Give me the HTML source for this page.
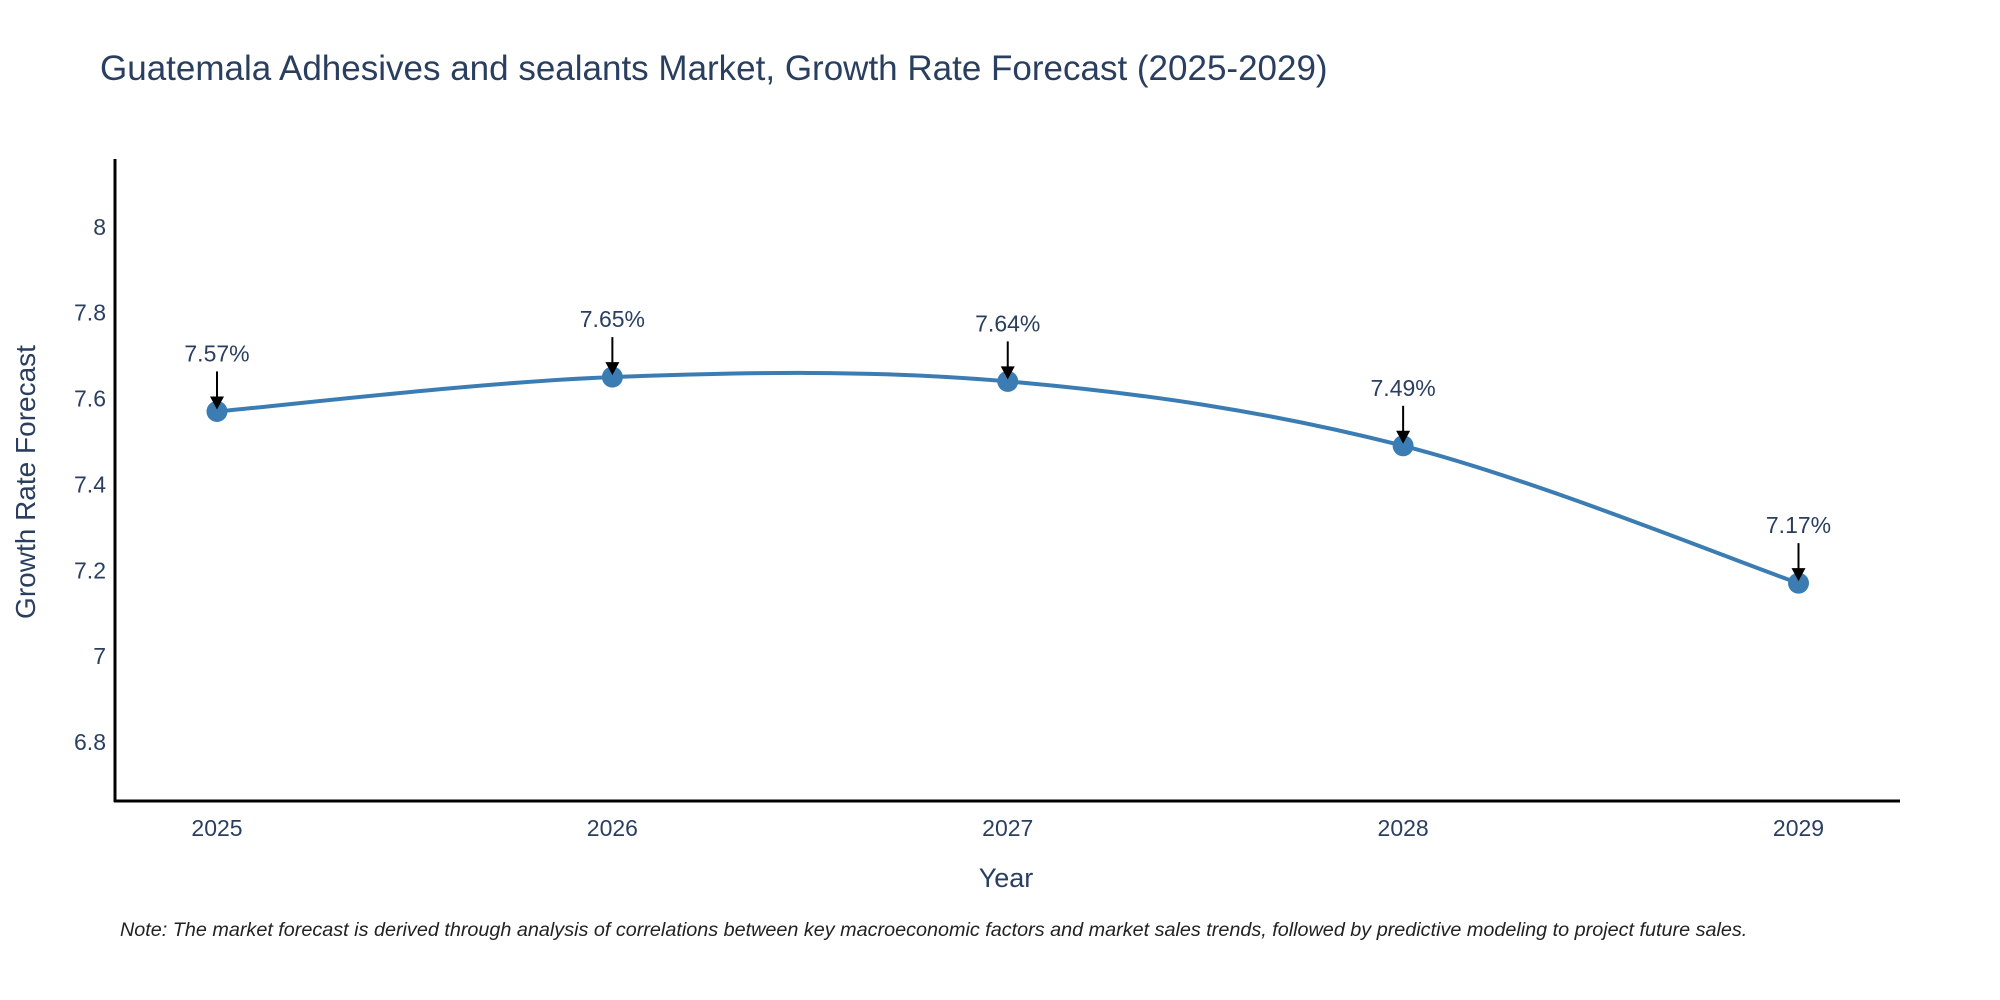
<!DOCTYPE html>
<html><head><meta charset="utf-8"><style>
body{margin:0;background:#fff;}
svg{display:block;font-family:"Liberation Sans",sans-serif;}
</style></head><body>
<svg id="chart" width="2000" height="1000">
<text x="100" y="80" font-size="35" fill="#2a3f5f">Guatemala Adhesives and sealants Market, Growth Rate Forecast (2025-2029)</text>
<g id="yticks"></g>
<g id="xticks"></g>
<path id="line" fill="none" stroke="#3b7db3" stroke-width="4"></path>
<g id="points"></g>
<g id="annos"></g>
<line x1="115" y1="159" x2="115" y2="802" stroke="#000" stroke-width="3"/>
<line x1="114" y1="801" x2="1900" y2="801" stroke="#000" stroke-width="3"/>
<text x="1006" y="887" font-size="27" fill="#2a3f5f" text-anchor="middle">Year</text>
<text transform="translate(35,482) rotate(-90)" font-size="28" fill="#2a3f5f" text-anchor="middle">Growth Rate Forecast</text>
<text x="120" y="936" font-size="19.8" font-style="italic" fill="#222">Note: The market forecast is derived through analysis of correlations between key macroeconomic factors and market sales trends, followed by predictive modeling to project future sales.</text>
</svg>
<script>
const years = [2025, 2026, 2027, 2028, 2029];
const values = [7.57, 7.65, 7.64, 7.49, 7.17];
const labels = ["7.57%", "7.65%", "7.64%", "7.49%", "7.17%"];
const yTicks = [6.8, 7, 7.2, 7.4, 7.6, 7.8, 8];
const yTickLabels = ["6.8", "7", "7.2", "7.4", "7.6", "7.8", "8"];

const NS = "http://www.w3.org/2000/svg";
function xS(v){ return 217 + (v - 2025) * (1798.5 - 217) / 4; }
function yS(v){ return 742 - (v - 6.8) * 429.3; }
function mk(tag, attrs, parent, txt){ const e=document.createElementNS(NS,tag); for(const k in attrs) e.setAttribute(k,attrs[k]); if(txt!==undefined) e.textContent=txt; parent.appendChild(e); return e; }

const yt=document.getElementById('yticks');
yTicks.forEach((t,i)=>{
  const e=mk('text',{x:106,y:yS(t)+8,'font-size':23,fill:'#2a3f5f','text-anchor':'end'},yt,yTickLabels[i]);
  
  
});
const xt=document.getElementById('xticks');
years.forEach(y=>{
  const e=mk('text',{x:xS(y),y:836,'font-size':23,fill:'#2a3f5f','text-anchor':'middle'},xt,String(y));
  
  
});

const pts=years.map((y,i)=>[xS(y),yS(values[i])]);
let d=`M${pts[0][0]},${pts[0][1]}`;
const s=0.17;
for(let i=0;i<pts.length-1;i++){
  const p0=pts[i-1]||pts[i], p1=pts[i], p2=pts[i+1], p3=pts[i+2]||pts[i+1];
  const c1=[p1[0]+(p2[0]-p0[0])*s, p1[1]+(p2[1]-p0[1])*s];
  const c2=[p2[0]-(p3[0]-p1[0])*s, p2[1]-(p3[1]-p1[1])*s];
  d+=` C${c1[0]},${c1[1]} ${c2[0]},${c2[1]} ${p2[0]},${p2[1]}`;
}
document.getElementById('line').setAttribute('d',d);

const pg=document.getElementById('points'), ag=document.getElementById('annos');
pts.forEach((p,i)=>{
  const c=mk('circle',{cx:p[0],cy:p[1],r:10.5,fill:'#3b7db3'},pg);
  
  
  const l=mk('line',{x1:p[0],y1:p[1]-40,x2:p[0],y2:p[1]-12,stroke:'#000','stroke-width':2},ag);
  
  
  const h=mk('polygon',{points:`${p[0]-7},${p[1]-15} ${p[0]+7},${p[1]-15} ${p[0]},${p[1]-2}`,fill:'#000'},ag);
  
  
  const t=mk('text',{x:p[0],y:p[1]-50,'font-size':23,fill:'#2a3f5f','text-anchor':'middle'},ag,labels[i]);
  
  
});
</script>
</body></html>
